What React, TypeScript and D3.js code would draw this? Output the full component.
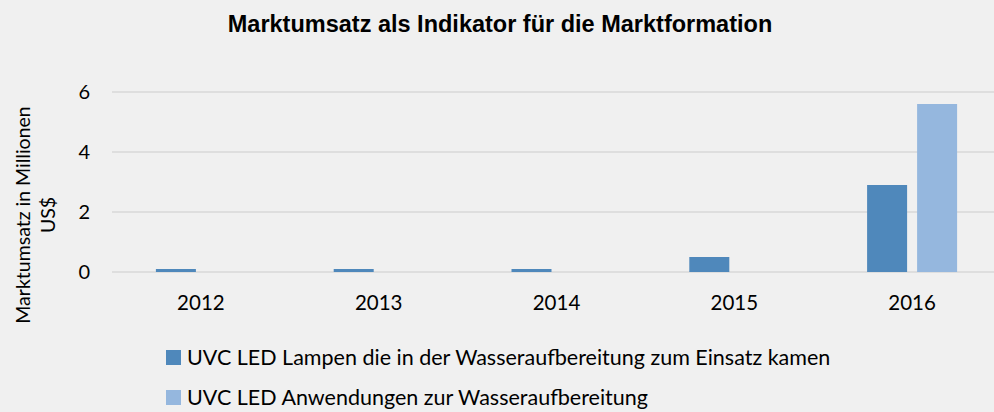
import { useEffect, useRef } from "react";
import * as d3 from "d3";

const years = ["2012", "2013", "2014", "2015", "2016"];
const seriesNames = [
  "UVC LED Lampen die in der Wasseraufbereitung zum Einsatz kamen",
  "UVC LED Anwendungen zur Wasseraufbereitung",
];
const lampenValues = [0.1, 0.1, 0.1, 0.5, 2.9];
const anwendungenValues = [0, 0, 0, 0, 5.6];
const yTicks = [0, 2, 4, 6];
const colors = ["#4f88bb", "#95b7de"];

const W = 994,
  H = 412;
const plotLeft = 112,
  plotRight = 1001;
const font = "Lato, 'Open Sans', sans-serif";

const App = () => {
  const ref = useRef<SVGSVGElement>(null);

  useEffect(() => {
    document.body.style.margin = "0";
    const svg = d3.select(ref.current);
    svg.selectAll("*").remove();

    svg.append("rect").attr("width", W).attr("height", H).attr("fill", "#f0f0f0");

    const x0 = d3.scaleBand().domain(years).range([plotLeft, plotRight]);
    const bw = x0.bandwidth();
    const x1 = d3
      .scaleBand()
      .domain(seriesNames)
      .range([bw / 2 - 45, bw / 2 + 45])
      .paddingInner(0.2);
    const y = d3.scaleLinear().domain([0, 6]).range([272, 92]);

    // grid
    svg
      .append("g")
      .selectAll("line")
      .data(yTicks)
      .enter()
      .append("line")
      .attr("x1", plotLeft)
      .attr("x2", plotRight)
      .attr("y1", (d) => y(d))
      .attr("y2", (d) => y(d))
      .attr("stroke", "#d9d9d9")
      .attr("stroke-width", 1.5);

    svg
      .append("g")
      .selectAll("text")
      .data(yTicks)
      .enter()
      .append("text")
      .attr("x", 90)
      .attr("y", (d) => y(d))
      .attr("dy", "0.35em")
      .attr("text-anchor", "end")
      .attr("font-family", font)
      .attr("font-size", 20)
      .attr("fill", "#000")
      .text((d) => d);

    const table = years.map((yr, i) => ({
      year: yr,
      vals: [lampenValues[i], anwendungenValues[i]],
    }));

    const groups = svg
      .append("g")
      .selectAll("g")
      .data(table)
      .enter()
      .append("g")
      .attr("transform", (d) => `translate(${x0(d.year)},0)`);

    groups
      .selectAll("rect")
      .data((d) => d.vals.map((v, j) => ({ v, j })))
      .enter()
      .append("rect")
      .attr("x", (d) => x1(seriesNames[d.j])!)
      .attr("width", x1.bandwidth())
      .attr("y", (d) => y(d.v))
      .attr("height", (d) => y(0) - y(d.v))
      .attr("fill", (d) => colors[d.j]);

    svg
      .append("g")
      .selectAll("text")
      .data(years)
      .enter()
      .append("text")
      .attr("x", (d) => x0(d)! + bw / 2)
      .attr("y", 310)
      .attr("text-anchor", "middle")
      .attr("font-family", font)
      .attr("font-size", 20.5)
      .attr("fill", "#000")
      .text((d) => d);

    // title
    svg
      .append("text")
      .attr("x", 500)
      .attr("y", 32)
      .attr("text-anchor", "middle")
      .attr("font-family", "'Liberation Sans', Arial, sans-serif")
      .attr("font-weight", "bold")
      .attr("font-size", 23.5)
      .attr("fill", "#000")
      .text("Marktumsatz als Indikator für die Marktformation");

    // y axis title
    const yt = svg
      .append("text")
      .attr("transform", "translate(0,215) rotate(-90)")
      .attr("text-anchor", "middle")
      .attr("font-family", font)
      .attr("font-size", 19.5)
      .attr("fill", "#000");
    yt.append("tspan").attr("x", 0).attr("y", 30).text("Marktumsatz in Millionen");
    yt.append("tspan").attr("x", 0).attr("y", 55).text("US$");

    // legend
    const legend = svg
      .append("g")
      .selectAll("g")
      .data(seriesNames)
      .enter()
      .append("g")
      .attr("transform", (d, i) => `translate(166,${357 + i * 40})`);
    legend
      .append("rect")
      .attr("x", 0)
      .attr("y", -7)
      .attr("width", 15)
      .attr("height", 15)
      .attr("fill", (d, i) => colors[i]);
    legend
      .append("text")
      .attr("x", 21)
      .attr("y", 0)
      .attr("dy", "0.35em")
      .attr("font-family", font)
      .attr("font-size", 21.5)
      .attr("fill", "#000")
      .text((d) => d);
  }, []);

  return <svg ref={ref} width={W} height={H} style={{ display: "block" }} />;
};

export default App;
